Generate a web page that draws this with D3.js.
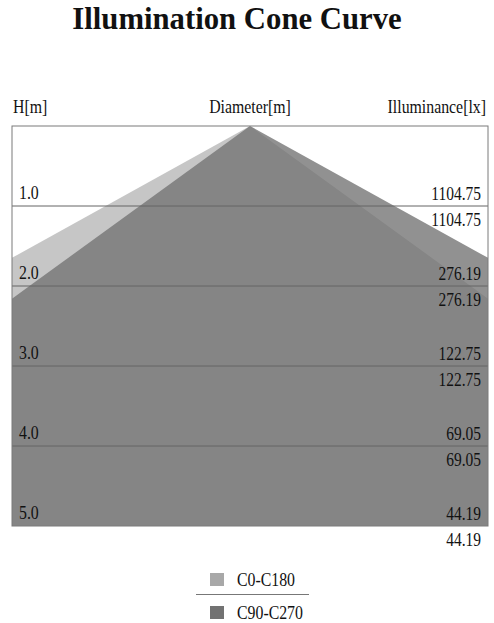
<!DOCTYPE html>
<html>
<head>
<meta charset="utf-8">
<script src="https://cdn.jsdelivr.net/npm/d3@7"></script>
<style>
  body { margin: 0; background: #fff; }
  text { font-family: "Liberation Serif", "Times New Roman", serif; fill: #111; }
</style>
</head>
<body>
<div class="canvas"></div>
<script>
// heights below the luminaire [m]
const heights = [0, 1, 2, 3, 4, 5]
const heightLabels = ['1.0', '2.0', '3.0', '4.0', '5.0']

// half diameters of the cones [m], left / right of the axis
const c0c180Left = [0, 1.82, 3.64, 5.46, 7.28, 9.10]
const c0c180Right = [0, 1.39, 2.78, 4.17, 5.56, 6.95]
const c90c270Left = [0, 1.39, 2.78, 4.17, 5.56, 6.95]
const c90c270Right = [0, 1.82, 3.64, 5.46, 7.28, 9.10]

// illuminance at each height [lx]
const illumC0 = [1104.75, 276.19, 122.75, 69.05, 44.19]
const illumC90 = [1104.75, 276.19, 122.75, 69.05, 44.19]

const seriesNames = ['C0-C180', 'C90-C270']
const seriesColors = ['#a8a8a8', '#727272']
const seriesOpacity = [0.65, 0.78]

const width = 494
const height = 623
const box = { left: 12, right: 488, top: 126, bottom: 526 }

const svg = d3.select('.canvas')
  .append('svg')
    .attr('width', width)
    .attr('height', height)

const x = d3.scaleLinear()
  .domain([-3, 3])
  .range([box.left, box.right])

const y = d3.scaleLinear()
  .domain([0, 5])
  .range([box.top, box.bottom])

// squeezed serif text like the original
const label = (g, str, px, py, anchor, size, sx, weight) => g.append('text')
  .attr('transform', `translate(${px},${py}) scale(${sx},1)`)
  .attr('text-anchor', anchor)
  .style('font-size', size + 'px')
  .style('font-weight', weight || 'normal')
  .text(str)

label(svg, 'Illumination Cone Curve', 237, 29, 'middle', 32, 0.96, 'bold')
label(svg, 'H[m]', 13, 113, 'start', 18, 0.88)
label(svg, 'Diameter[m]', 250, 113, 'middle', 18, 0.88)
label(svg, 'Illuminance[lx]', 486, 113, 'end', 18, 0.88)

svg.append('clipPath')
    .attr('id', 'plotClip')
  .append('rect')
    .attr('x', box.left)
    .attr('y', box.top)
    .attr('width', box.right - box.left)
    .attr('height', box.bottom - box.top)

const line = d3.line()
  .x(d => x(d[0]))
  .y(d => y(d[1]))

const conePoints = (left, right) => {
  const pts = heights.map((h, i) => [right[i], h])
  const back = heights.map((h, i) => [-left[i], h]).reverse()
  return pts.concat(back)
}

const cones = [
  conePoints(c0c180Left, c0c180Right),
  conePoints(c90c270Left, c90c270Right)
]

const plot = svg.append('g')
  .attr('clip-path', 'url(#plotClip)')

plot.selectAll('path.cone')
  .data(cones)
  .enter()
  .append('path')
    .attr('class', 'cone')
    .attr('d', d => line(d) + 'Z')
    .attr('fill', (d, i) => seriesColors[i])
    .attr('fill-opacity', (d, i) => seriesOpacity[i])

// height grid lines
svg.selectAll('line.grid')
  .data(heights.slice(1, 5))
  .enter()
  .append('line')
    .attr('class', 'grid')
    .attr('x1', box.left)
    .attr('x2', box.right)
    .attr('y1', d => y(d))
    .attr('y2', d => y(d))
    .attr('stroke', '#646464')
    .attr('stroke-width', 1)

svg.append('rect')
  .attr('x', box.left)
  .attr('y', box.top)
  .attr('width', box.right - box.left)
  .attr('height', box.bottom - box.top)
  .attr('fill', 'none')
  .attr('stroke', '#7a7a7a')
  .attr('stroke-width', 1)

const labels = svg.append('g')
heights.slice(1).forEach((h, i) => {
  label(labels, heightLabels[i], 19, y(h) - 7, 'start', 18, 0.88)
  label(labels, illumC0[i], 481, y(h) - 6, 'end', 18, 0.86)
  label(labels, illumC90[i].toFixed(2), 481, y(h) + 20, 'end', 18, 0.86)
})

// legend
const legend = svg.append('g')
seriesNames.forEach((name, i) => {
  const top = 573 + i * 33
  legend.append('rect')
    .attr('x', 210)
    .attr('y', top)
    .attr('width', 14)
    .attr('height', 13)
    .attr('fill', seriesColors[i])
  label(legend, name, 237, top + 13, 'start', 18, 0.88)
})
legend.append('line')
  .attr('x1', 196)
  .attr('x2', 309)
  .attr('y1', 594.5)
  .attr('y2', 594.5)
  .attr('stroke', '#777')
</script>
</body>
</html>
